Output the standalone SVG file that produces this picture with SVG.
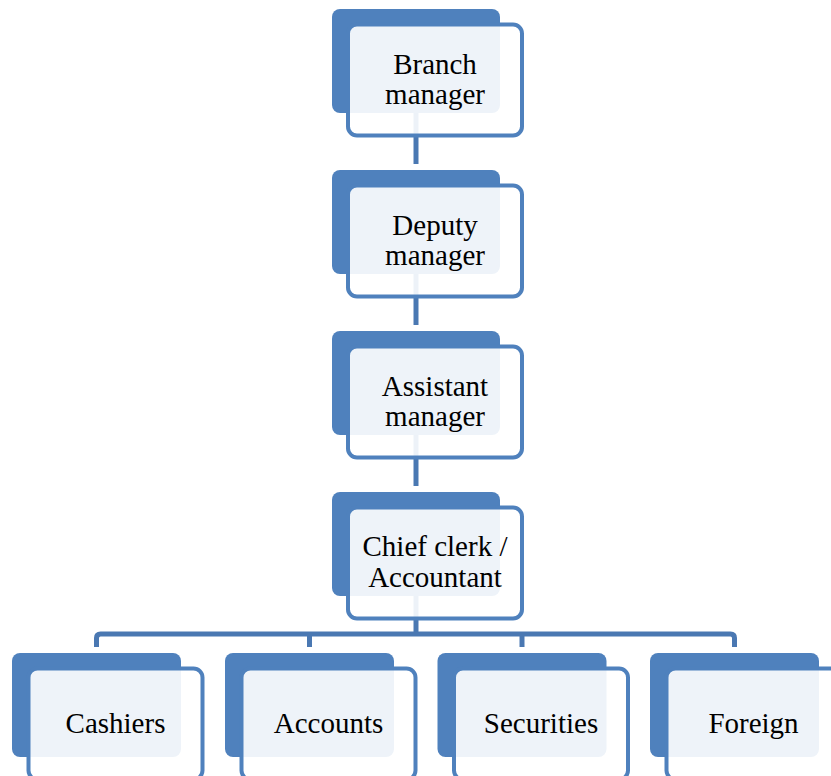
<svg xmlns="http://www.w3.org/2000/svg" width="831" height="776" viewBox="0 0 831 776">
<defs>
<style>
.back{fill:#4F81BD;}
.front{fill:#FFFFFF;fill-opacity:0.9;stroke:#4F81BD;stroke-width:4;}
.conn{fill:none;stroke:#4A78B2;stroke-width:5;}
.lbl{font-family:"Liberation Serif","Times New Roman",serif;font-size:29px;fill:#000;text-anchor:middle;}
</style>
</defs>
<rect width="831" height="776" fill="#FFFFFF"/>
<g id="connectors">
<path class="conn" d="M416,113 V164"/>
<path class="conn" d="M416,274 V325"/>
<path class="conn" d="M416,435 V486"/>
<path class="conn" d="M416,596 V634"/>
<path class="conn" d="M96.5,647 V638 Q96.5,634 100.5,634 H730.5 Q734.5,634 734.5,638 V647"/>
<path class="conn" d="M309.5,634 V647"/>
<path class="conn" d="M522,634 V647"/>
</g>
<g id="branch-manager">
<rect class="back" x="332" y="9" width="168" height="104" rx="8"/>
<rect class="front" x="348" y="24.5" width="174" height="111" rx="9"/>
<text class="lbl" x="435" y="74">Branch</text>
<text class="lbl" x="435" y="104">manager</text>
</g>
<g id="deputy-manager">
<rect class="back" x="332" y="170" width="168" height="104" rx="8"/>
<rect class="front" x="348" y="185.5" width="174" height="111" rx="9"/>
<text class="lbl" x="435" y="235">Deputy</text>
<text class="lbl" x="435" y="265">manager</text>
</g>
<g id="assistant-manager">
<rect class="back" x="332" y="331" width="168" height="104" rx="8"/>
<rect class="front" x="348" y="346.5" width="174" height="111" rx="9"/>
<text class="lbl" x="435" y="396">Assistant</text>
<text class="lbl" x="435" y="426">manager</text>
</g>
<g id="chief-clerk">
<rect class="back" x="332" y="492" width="168" height="104" rx="8"/>
<rect class="front" x="348" y="507.5" width="174" height="111" rx="9"/>
<text class="lbl" x="435" y="556">Chief clerk /</text>
<text class="lbl" x="435" y="587">Accountant</text>
</g>
<g id="cashiers">
<rect class="back" x="12" y="653" width="169" height="104" rx="8"/>
<rect class="front" x="28.5" y="668.5" width="174" height="111" rx="9"/>
<text class="lbl" x="115.5" y="733">Cashiers</text>
</g>
<g id="accounts">
<rect class="back" x="225" y="653" width="169" height="104" rx="8"/>
<rect class="front" x="241.5" y="668.5" width="174" height="111" rx="9"/>
<text class="lbl" x="328.5" y="733">Accounts</text>
</g>
<g id="securities">
<rect class="back" x="437.5" y="653" width="169" height="104" rx="8"/>
<rect class="front" x="454" y="668.5" width="174" height="111" rx="9"/>
<text class="lbl" x="541" y="733">Securities</text>
</g>
<g id="foreign">
<rect class="back" x="650" y="653" width="169" height="104" rx="8"/>
<rect class="front" x="666.5" y="668.5" width="174" height="111" rx="9"/>
<text class="lbl" x="753.5" y="733">Foreign</text>
</g>
</svg>
